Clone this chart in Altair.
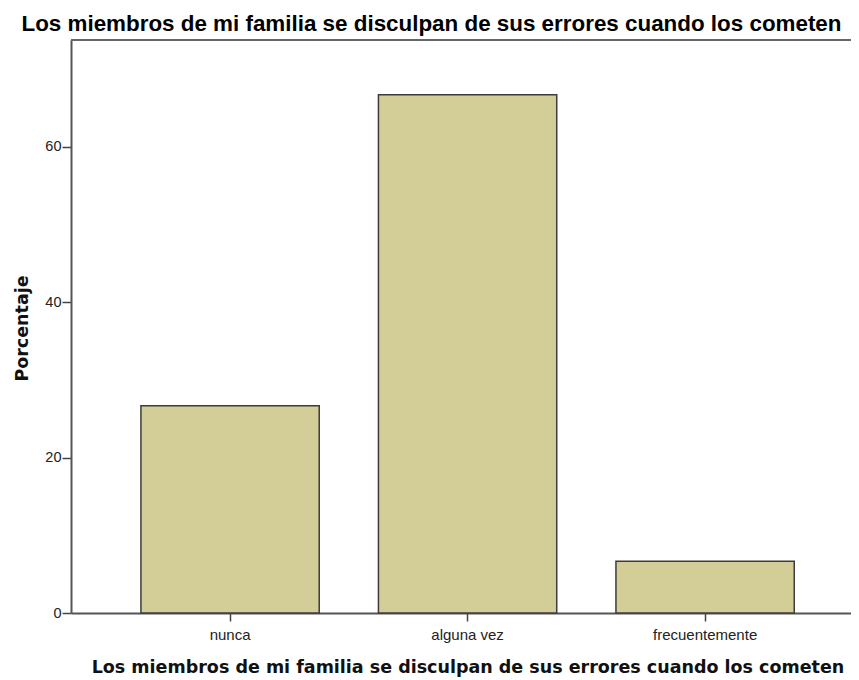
import altair as alt
import pandas as pd

categorias = ["nunca", "alguna vez", "frecuentemente"]
porcentajes = [26.67, 66.67, 6.67]
y_ticks = [0, 20, 40, 60]
titulo = "Los miembros de mi familia se disculpan de sus errores cuando los cometen"
y_titulo = "Porcentaje"

df = pd.DataFrame({"categoria": categorias, "porcentaje": porcentajes})
borde = pd.DataFrame({"k": [0]})

W, H = 780, 573

bars = alt.Chart(df).mark_bar(
    fill="#D3CE97", stroke="#3C3C3C", strokeWidth=1.5
).encode(
    x=alt.X(
        "categoria:N",
        sort=categorias,
        scale=alt.Scale(paddingInner=0.2493, paddingOuter=0.2667, align=0.552),
        axis=alt.Axis(
            title=titulo,
            labelAngle=0,
            labelFont="Liberation Sans",
            labelFontSize=15,
            labelColor="#222222",
            labelPadding=6,
            tickSize=8,
            tickColor="#444444",
            tickWidth=1.5,
            domainColor="#555555",
            domainWidth=2,
            titleFont="DejaVu Sans",
            titleFontSize=17.5,
            titleFontWeight="bold",
            titleColor="#111111",
            titleX=396.5,
            titleY=59,
            titleAlign="center",
            titleBaseline="alphabetic",
        ),
    ),
    y=alt.Y(
        "porcentaje:Q",
        scale=alt.Scale(domain=[0, 73.7], nice=False, zero=True),
        axis=alt.Axis(
            title=y_titulo,
            values=y_ticks,
            grid=False,
            labelFont="Liberation Sans",
            labelFontSize=14.5,
            labelColor="#222222",
            labelPadding=1,
            tickSize=9,
            tickColor="#444444",
            tickWidth=1.5,
            domainColor="#555555",
            domainWidth=2,
            titleFont="DejaVu Sans",
            titleFontSize=17.5,
            titleFontWeight="bold",
            titleColor="#111111",
            titleX=-44,
            titleY=288,
            titleAngle=270,
            titleAlign="center",
            titleBaseline="alphabetic",
        ),
    ),
)

top_line = alt.Chart(borde).mark_rule(color="#666666", strokeWidth=2).encode(
    x=alt.value(0), x2=alt.value(W), y=alt.value(0)
)

chart = alt.layer(bars, top_line).properties(
    width=W,
    height=H,
    title=alt.TitleParams(
        text=titulo,
        font="Liberation Sans",
        fontSize=22.4,
        fontWeight="bold",
        color="#000000",
        anchor="middle",
        frame="group",
        dx=-29.5,
        dy=24,
        offset=10,
        baseline="alphabetic",
    ),
    autosize=alt.AutoSizeParams(type="none"),
    padding={"left": 63, "top": 32, "right": 0, "bottom": 65},
).configure_view(
    fill="#F0F0F0", strokeWidth=0
).configure(background="#FFFFFF")

chart.save("out.html", embed_options={"renderer": "svg", "actions": False})
